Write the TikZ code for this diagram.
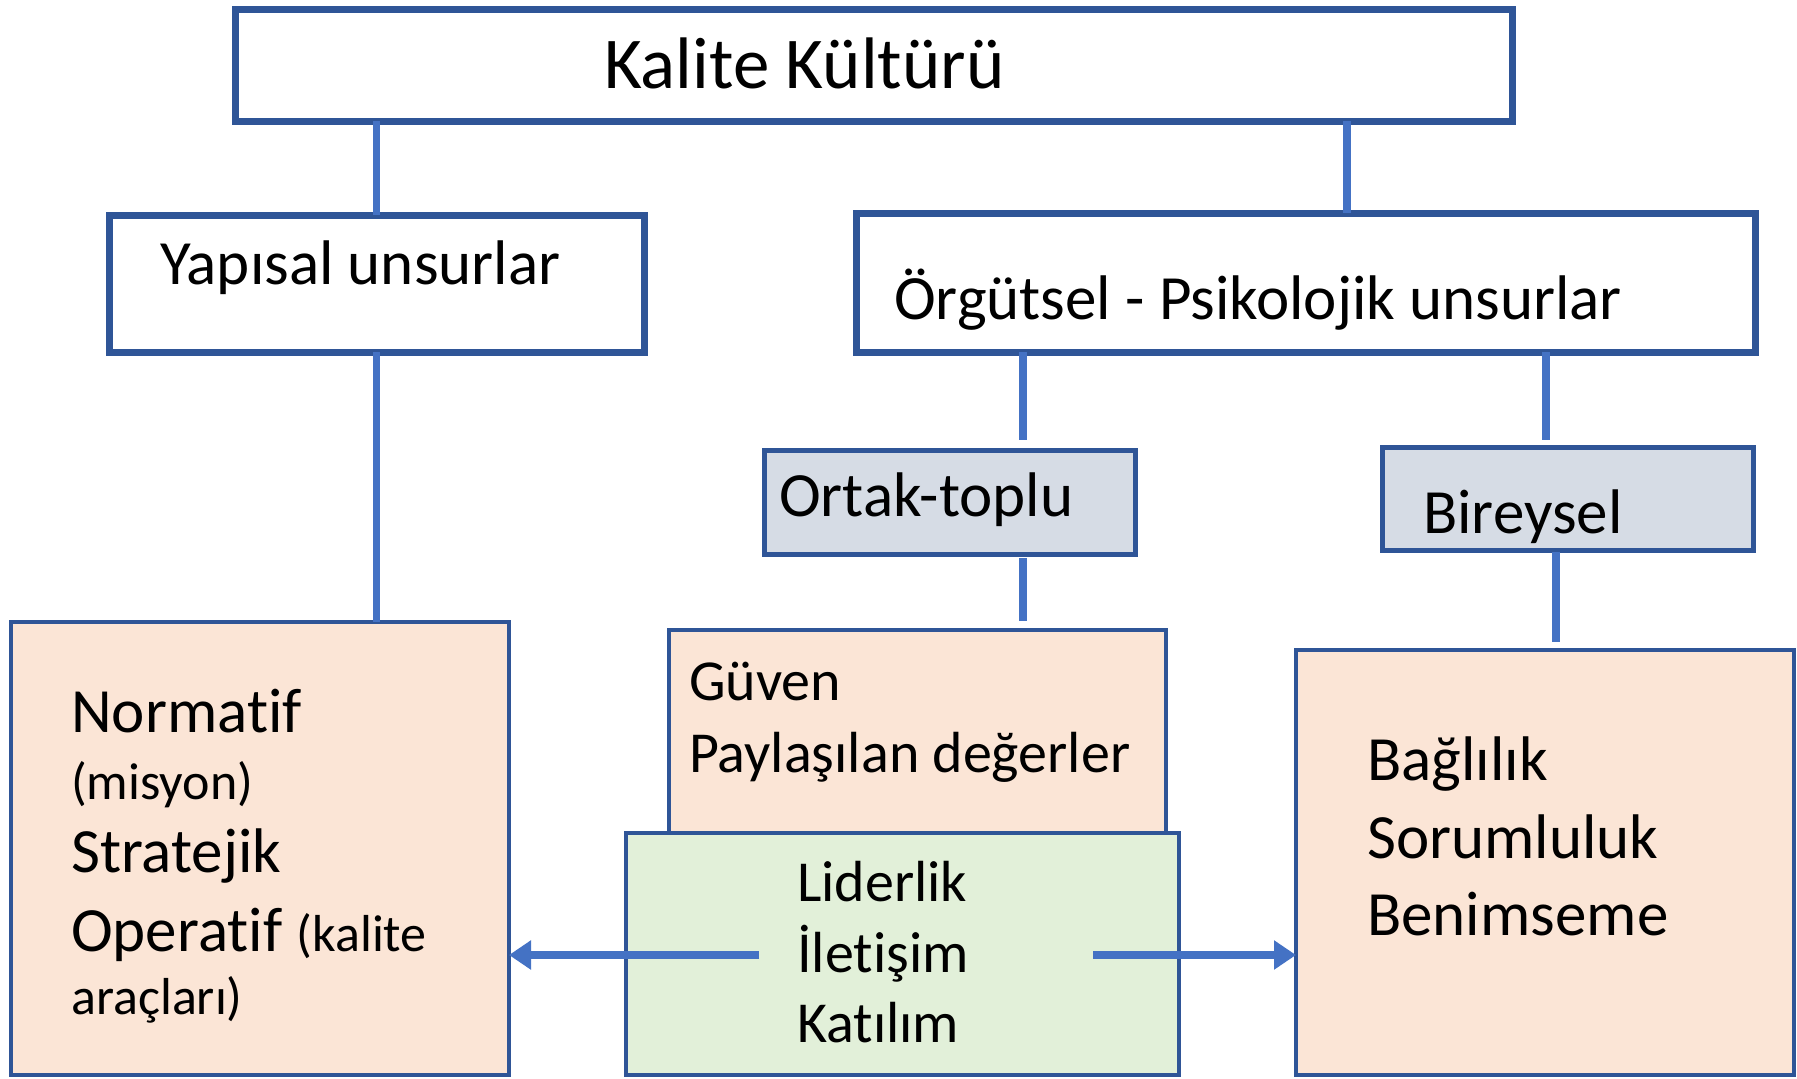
\documentclass[tikz,border=0pt]{standalone}
\usepackage{fontspec}
\setmainfont{Carlito}[Ligatures={NoCommon}]
\usetikzlibrary{arrows.meta}
\definecolor{bord}{HTML}{2F5597}
\definecolor{conncol}{HTML}{4472C4}
\definecolor{peach}{HTML}{FBE5D6}
\definecolor{greyblue}{HTML}{D6DCE5}
\definecolor{lgreen}{HTML}{E2F0D9}
\tikzset{
  bigbox/.style={draw=bord, line width=7pt, fill=white, anchor=north west, inner sep=0pt, outer sep=0pt},
  midbox/.style={draw=bord, line width=5pt, fill=greyblue, anchor=north west, inner sep=0pt, outer sep=0pt},
  contbox/.style={draw=bord, line width=4pt, anchor=north west, inner sep=0pt, outer sep=0pt},
  conn/.style={draw=conncol, line width=7.5pt},
  arr/.style={draw=conncol, line width=7.5pt, -{Triangle[length=22pt,width=28pt]}},
  txt/.style={anchor=base west, inner sep=0pt, font=\fontsize{63}{70}\selectfont},
  midtxt/.style={anchor=base west, inner sep=0pt, font=\fontsize{58}{66}\selectfont},
  smalltxt/.style={anchor=base west, inner sep=0pt, font=\fontsize{52}{60}\selectfont},
}
\begin{document}
\begin{tikzpicture}[x=1pt,y=-1pt]
\useasboundingbox (0,0) rectangle (1797,1079);
% top level
\node[bigbox, minimum width=1277pt, minimum height=112pt] (top) at (235,9) {};
\node[anchor=base west, inner sep=0pt, font=\fontsize{73}{80}\selectfont] (toptxt) at (604,88) {Kalite Kültürü};
% second level
\node[bigbox, minimum width=535pt, minimum height=137pt] (yap) at (109,215) {};
\node[txt] (yaptxt) at (160,284) {Yapısal unsurlar};
\node[bigbox, minimum width=899pt, minimum height=139pt] (org) at (856,213) {};
\node[txt] (orgtxt) at (894,319) {Örgütsel - Psikolojik unsurlar};
% third level
\node[midbox, minimum width=371pt, minimum height=104pt] (ortak) at (764,450) {};
\node[txt] (ortaktxt) at (779,516) {Ortak-toplu};
\node[midbox, minimum width=371pt, minimum height=103pt] (bir) at (1382,447) {};
\node[txt] (birtxt) at (1423,533) {Bireysel};
% content boxes
\node[contbox, fill=peach, minimum width=498pt, minimum height=453pt] (left) at (11,622) {};
\node[contbox, fill=peach, minimum width=497pt, minimum height=203pt] (guven) at (669,630) {};
\node[contbox, fill=lgreen, minimum width=553pt, minimum height=242pt] (green) at (626,833) {};
\node[contbox, fill=peach, minimum width=498pt, minimum height=425pt] (right) at (1296,650) {};
% left texts
\node[txt] (l1) at (71,732) {Normatif};
\node[smalltxt] (l2) at (71,799) {(misyon)};
\node[txt] (l3) at (71,872) {Stratejik};
\node[txt] (l4) at (71,951) {Operatif {\fontsize{52}{60}\selectfont (kalite}};
\node[smalltxt] (l5) at (71,1014) {araçları)};
% middle texts
\node[midtxt] (g1) at (689,700) {Güven};
\node[midtxt] (g2) at (689,772) {Paylaşılan değerler};
\node[midtxt] (m1) at (797,901) {Liderlik};
\node[midtxt] (m2) at (797,972) {İletişim};
\node[midtxt] (m3) at (797,1042) {Katılım};
% right texts
\node[txt] (r1) at (1367,780) {Bağlılık};
\node[txt] (r2) at (1367,858) {Sorumluluk};
\node[txt] (r3) at (1367,935) {Benimseme};
% connectors
\draw[conn] (top.south -| yap.north) -- (yap.north);
\draw[conn] (top.south -| 1347,0) -- (org.north -| 1347,0);
\draw[conn] (yap.south) -- (yap.south |- left.north);
\draw[conn, shorten >=10pt] (org.south -| 1023,0) -- (ortak.north -| 1023,0);
\draw[conn, shorten >=7pt] (org.south -| 1546,0) -- (bir.north -| 1546,0);
\draw[conn, shorten <=4pt, shorten >=9pt] (ortak.south -| 1023,0) -- (guven.north -| 1023,0);
\draw[conn, shorten <=2pt, shorten >=8pt] (bir.south -| 1556,0) -- (right.north -| 1556,0);
% arrows
\coordinate (aL) at (759,955);
\coordinate (aR) at (1093,955);
\draw[arr] (aL) -- (aL -| left.east);
\draw[arr] (aR) -- (aR -| right.west);
\end{tikzpicture}
\end{document}
